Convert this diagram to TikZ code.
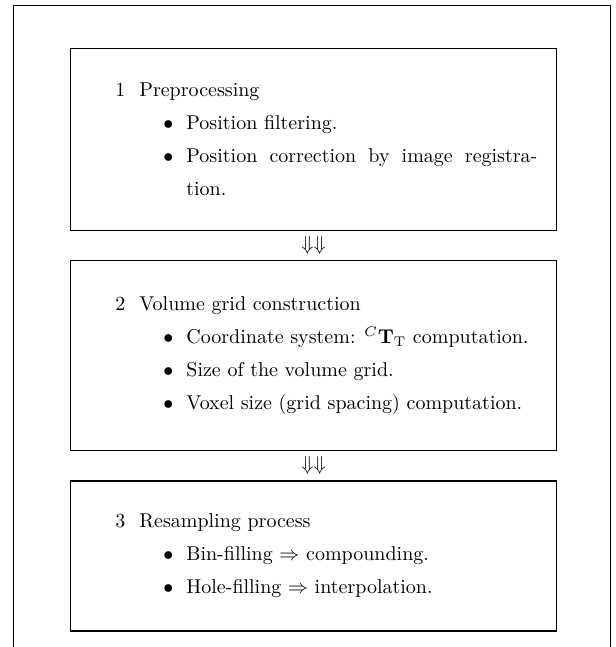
\documentclass[tikz,border=0pt]{standalone}
\usetikzlibrary{positioning,calc}
\newenvironment{stepitems}{\begin{list}{$\bullet$}{%
  \setlength{\leftmargin}{35.5pt}\setlength{\labelsep}{6.5pt}%
  \setlength{\labelwidth}{29pt}\setlength{\topsep}{-2pt}%
  \setlength{\partopsep}{0pt}\setlength{\parsep}{0pt}\setlength{\itemsep}{0pt}}}%
  {\end{list}}
\newcommand{\stepno}[1]{\noindent\makebox[12pt][l]{#1}}

\begin{document}
\begin{tikzpicture}[node distance=14.5pt,
  every node/.style={font=\fontsize{10}{16.5}\selectfont},
  stepbox/.style={draw,line width=0.6pt,minimum width=243pt,inner sep=0pt},
  steptext/.style={inner sep=0pt,text width=211pt,align=justify},
  dn/.style={inner sep=0pt}]
\useasboundingbox (0,0) rectangle (307.5pt,-323.5pt);
% open frame round the whole flow
\draw[line width=0.4pt] (6.5pt,-323.5pt) |- (305pt,-2.5pt) -- (305pt,-323.5pt);

\node[stepbox,minimum height=91pt,anchor=north west] (box1) at (35pt,-24pt) {};
\node[stepbox,minimum height=95pt,below=of box1] (box2) {};
\node[stepbox,minimum height=75pt,below=of box2] (box3) {};

\node[steptext,right=22.5pt of box1.west] (txt1) {\stepno{1}Preprocessing
  \begin{stepitems}
  \item Position filtering.
  \item Position correction by image registra-\linebreak tion.
  \end{stepitems}};
\node[steptext,right=22.5pt of box2.west] (txt2) {\stepno{2}Volume grid construction
  \begin{stepitems}
  \item Coordinate system: ${}^{C}\mathbf{T}_{\mathrm{T}}$ computation.
  \item Size of the volume grid.
  \item Voxel size (grid spacing) computation.
  \end{stepitems}};
\node[steptext,right=22.5pt of box3.west] (txt3) {\stepno{3}Resampling process
  \begin{stepitems}
  \item Bin-filling $\Rightarrow$ compounding.
  \item Hole-filling $\Rightarrow$ interpolation.
  \end{stepitems}};

\node[dn] (dn1) at ($(box1.south)!0.5!(box2.north)$) {$\Downarrow\Downarrow$};
\node[dn] (dn2) at ($(box2.south)!0.5!(box3.north)$) {$\Downarrow\Downarrow$};
\end{tikzpicture}
\end{document}
